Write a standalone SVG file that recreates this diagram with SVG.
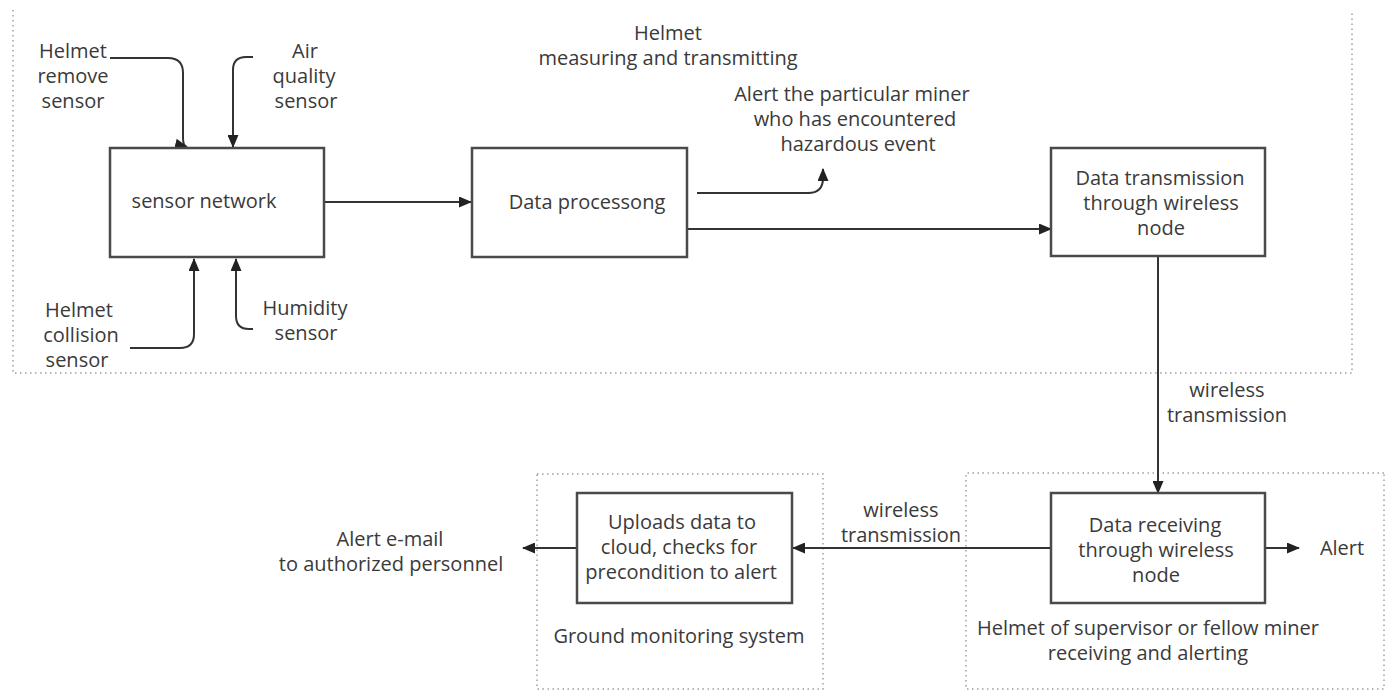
<svg xmlns="http://www.w3.org/2000/svg" width="1387" height="692" viewBox="0 0 1387 692">
  <style>
    .lbl { font-family: "Open Sans", "Liberation Sans", sans-serif; font-size: 20px; fill: #3a3a3a; text-anchor: middle; }
    .box { fill: #ffffff; stroke: #4a4a4a; stroke-width: 2.5; }
    .zone { fill: none; stroke: #a0a0a0; stroke-width: 1.5; stroke-dasharray: 1.5 3.5; }
    .wire { fill: none; stroke: #333333; stroke-width: 2; marker-end: url(#tip); }
  </style>
  <defs>
    <marker id="tip" markerUnits="userSpaceOnUse" markerWidth="13" markerHeight="11" refX="12" refY="5.5" orient="auto">
      <path d="M0,0 L13,5.5 L0,11 z" fill="#222222"/>
    </marker>
  </defs>

  <rect width="1387" height="692" fill="#ffffff"/>

  <!-- dotted grouping zones -->
  <g id="zones">
    <path class="zone" d="M13,10 V373 H1352 V10"/>
    <rect class="zone" x="537" y="474" width="286" height="215"/>
    <path class="zone" d="M1384,473 H966 V689 H1384 V473"/>
  </g>

  <!-- connectors -->
  <g id="connectors">
    <path class="wire" d="M110,58 H168 Q183,58 183,73 V138 Q183,146 187,147"/>
    <path class="wire" d="M253,57 H246 Q233,57 233,70 V147"/>
    <path class="wire" d="M130,348 H180 Q194,348 194,334 V259"/>
    <path class="wire" d="M253,329 H249 Q236,329 236,316 V259"/>
    <path class="wire" d="M325,202 H471"/>
    <path class="wire" d="M697,193 H808 Q823,193 823,178 V169"/>
    <path class="wire" d="M687,229 H1051"/>
    <path class="wire" d="M1158,256 V493"/>
    <path class="wire" d="M1051,548 H793"/>
    <path class="wire" d="M577,548 H523"/>
    <path class="wire" d="M1265,548 H1299"/>
  </g>

  <!-- sensor inputs -->
  <g id="helmet-remove-sensor">
    <text class="lbl" x="73" y="58">Helmet</text>
    <text class="lbl" x="73" y="83">remove</text>
    <text class="lbl" x="73" y="108">sensor</text>
  </g>
  <g id="air-quality-sensor">
    <text class="lbl" x="305" y="58">Air</text>
    <text class="lbl" x="304" y="83">quality</text>
    <text class="lbl" x="306" y="108">sensor</text>
  </g>
  <g id="helmet-collision-sensor">
    <text class="lbl" x="79" y="317">Helmet</text>
    <text class="lbl" x="81" y="342">collision</text>
    <text class="lbl" x="77" y="367">sensor</text>
  </g>
  <g id="humidity-sensor">
    <text class="lbl" x="305" y="315">Humidity</text>
    <text class="lbl" x="306" y="340">sensor</text>
  </g>

  <!-- helmet processing chain -->
  <g id="sensor-network">
    <rect class="box" x="110" y="148" width="214" height="109"/>
    <text class="lbl" x="204" y="208">sensor network</text>
  </g>
  <g id="data-processing">
    <rect class="box" x="472" y="148" width="215" height="109"/>
    <text class="lbl" x="587" y="209">Data processong</text>
  </g>
  <g id="helmet-caption">
    <text class="lbl" x="668" y="40">Helmet</text>
    <text class="lbl" x="668" y="65">measuring and transmitting</text>
  </g>
  <g id="miner-alert">
    <text class="lbl" x="852" y="101">Alert the particular miner</text>
    <text class="lbl" x="855" y="126">who has encountered</text>
    <text class="lbl" x="858" y="151">hazardous event</text>
  </g>
  <g id="data-transmission">
    <rect class="box" x="1051" y="148" width="214" height="108"/>
    <text class="lbl" x="1160" y="185">Data transmission</text>
    <text class="lbl" x="1161" y="210">through wireless</text>
    <text class="lbl" x="1161" y="235">node</text>
  </g>
  <g id="wireless-label-vertical">
    <text class="lbl" x="1227" y="397">wireless</text>
    <text class="lbl" x="1227" y="422">transmission</text>
  </g>

  <!-- receiving helmet -->
  <g id="data-receiving">
    <rect class="box" x="1051" y="493" width="214" height="110"/>
    <text class="lbl" x="1155" y="532">Data receiving</text>
    <text class="lbl" x="1156" y="557">through wireless</text>
    <text class="lbl" x="1156" y="582">node</text>
  </g>
  <g id="alert">
    <text class="lbl" x="1342" y="555">Alert</text>
  </g>
  <g id="receiver-caption">
    <text class="lbl" x="1148" y="635">Helmet of supervisor or fellow miner</text>
    <text class="lbl" x="1148" y="660">receiving and alerting</text>
  </g>
  <g id="wireless-label-horizontal">
    <text class="lbl" x="901" y="517">wireless</text>
    <text class="lbl" x="901" y="542">transmission</text>
  </g>

  <!-- ground station -->
  <g id="cloud-upload">
    <rect class="box" x="577" y="493" width="215" height="110"/>
    <text class="lbl" x="682" y="529">Uploads data to</text>
    <text class="lbl" x="679" y="554">cloud, checks for</text>
    <text class="lbl" x="681" y="579">precondition to alert</text>
  </g>
  <g id="ground-caption">
    <text class="lbl" x="679" y="643">Ground monitoring system</text>
  </g>
  <g id="email-alert">
    <text class="lbl" x="390" y="546">Alert e-mail</text>
    <text class="lbl" x="391" y="571">to authorized personnel</text>
  </g>
</svg>
